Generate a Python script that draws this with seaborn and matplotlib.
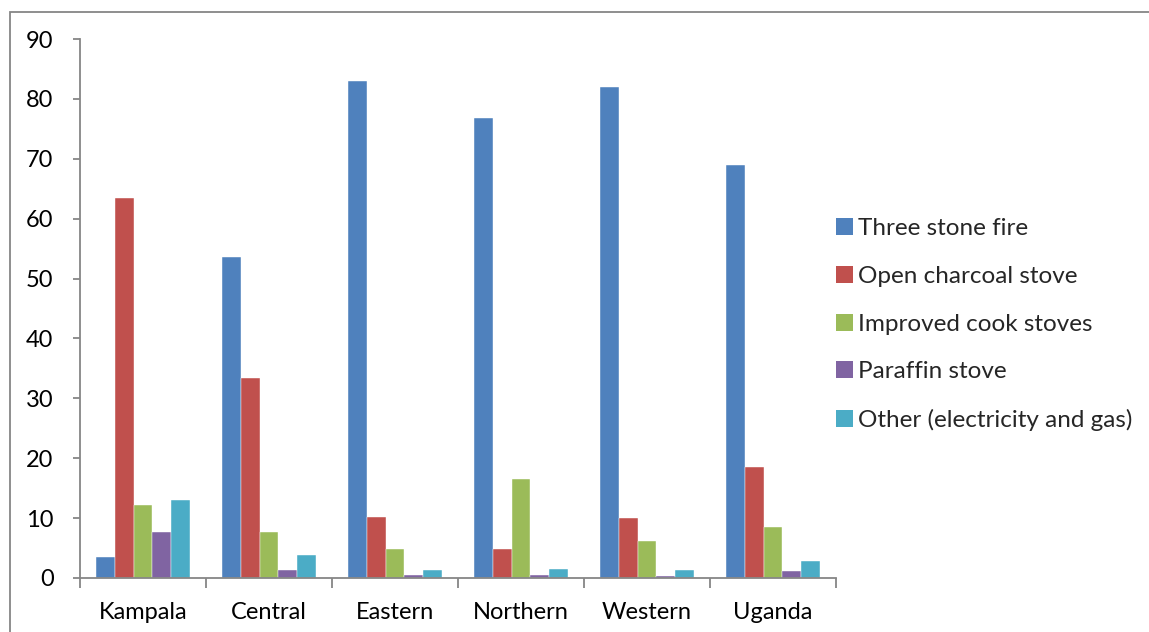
import numpy as np
import pandas as pd
import seaborn as sns
import matplotlib.pyplot as plt
from matplotlib.patches import Rectangle

sns.set_theme(style="white")
plt.rcParams['font.family'] = ['Lato', 'DejaVu Sans']

regions = ["Kampala", "Central", "Eastern", "Northern", "Western", "Uganda"]
stoves = ["Three stone fire", "Open charcoal stove", "Improved cook stoves",
          "Paraffin stove", "Other (electricity and gas)"]

three_stone = [3.5, 53.6, 83.0, 76.8, 82.0, 69.0]
open_charcoal = [63.4, 33.4, 10.2, 4.8, 10.1, 18.5]
improved = [12.2, 7.6, 4.8, 16.5, 6.2, 8.5]
paraffin = [7.6, 1.3, 0.5, 0.5, 0.3, 1.2]
other = [13.0, 3.8, 1.4, 1.5, 1.4, 2.8]

colors = ["#4F81BD", "#C0504D", "#9BBB59", "#8064A2", "#4BACC6"]

df = pd.DataFrame({
    "region": regions * 5,
    "stove": np.repeat(stoves, len(regions)),
    "value": three_stone + open_charcoal + improved + paraffin + other,
})

fig = plt.figure(figsize=(11.49, 6.32), dpi=100)
ax = fig.add_axes([80 / 1149, 1 - 578 / 632, 756 / 1149, 539 / 632])

sns.barplot(data=df, x="region", y="value", hue="stove", hue_order=stoves,
            order=regions, palette=colors, width=0.75, ax=ax,
            edgecolor="white", linewidth=0.3, saturation=1, errorbar=None)

grey = "#868686"
ax.set_ylim(0, 90)
ax.set_xlim(-0.5, 5.5)
ax.set_yticks(range(0, 91, 10))
ax.set_xlabel("")
ax.set_ylabel("")
for s in ["top", "right"]:
    ax.spines[s].set_visible(False)
for s in ["left", "bottom"]:
    ax.spines[s].set_color(grey)
    ax.spines[s].set_linewidth(1.3)

ax.tick_params(axis="y", which="major", left=True, length=5, width=1.3,
               color=grey, pad=14, labelsize=17, labelcolor="black")
ax.tick_params(axis="x", which="major", bottom=False, length=0, pad=17,
               labelsize=17, labelcolor="black")
ax.set_xticks(np.arange(-0.5, 6, 1), minor=True)
ax.tick_params(axis="x", which="minor", bottom=True, length=7, width=1.3,
               color=grey)

leg = ax.legend(loc="center left", bbox_to_anchor=(1.0, 0.47), frameon=False,
                fontsize=17.5, handlelength=0.7, handleheight=0.7,
                handletextpad=0.2, labelspacing=1.1, borderaxespad=0,
                borderpad=0)
for h in leg.legend_handles:
    h.set_edgecolor("none")

fig.patches.append(Rectangle((10 / 1149, -0.1), 1.2, 1 - 12 / 632 + 0.1,
                             transform=fig.transFigure, fill=False,
                             edgecolor=grey, linewidth=1.3))

fig.savefig("out.png", dpi=100)
